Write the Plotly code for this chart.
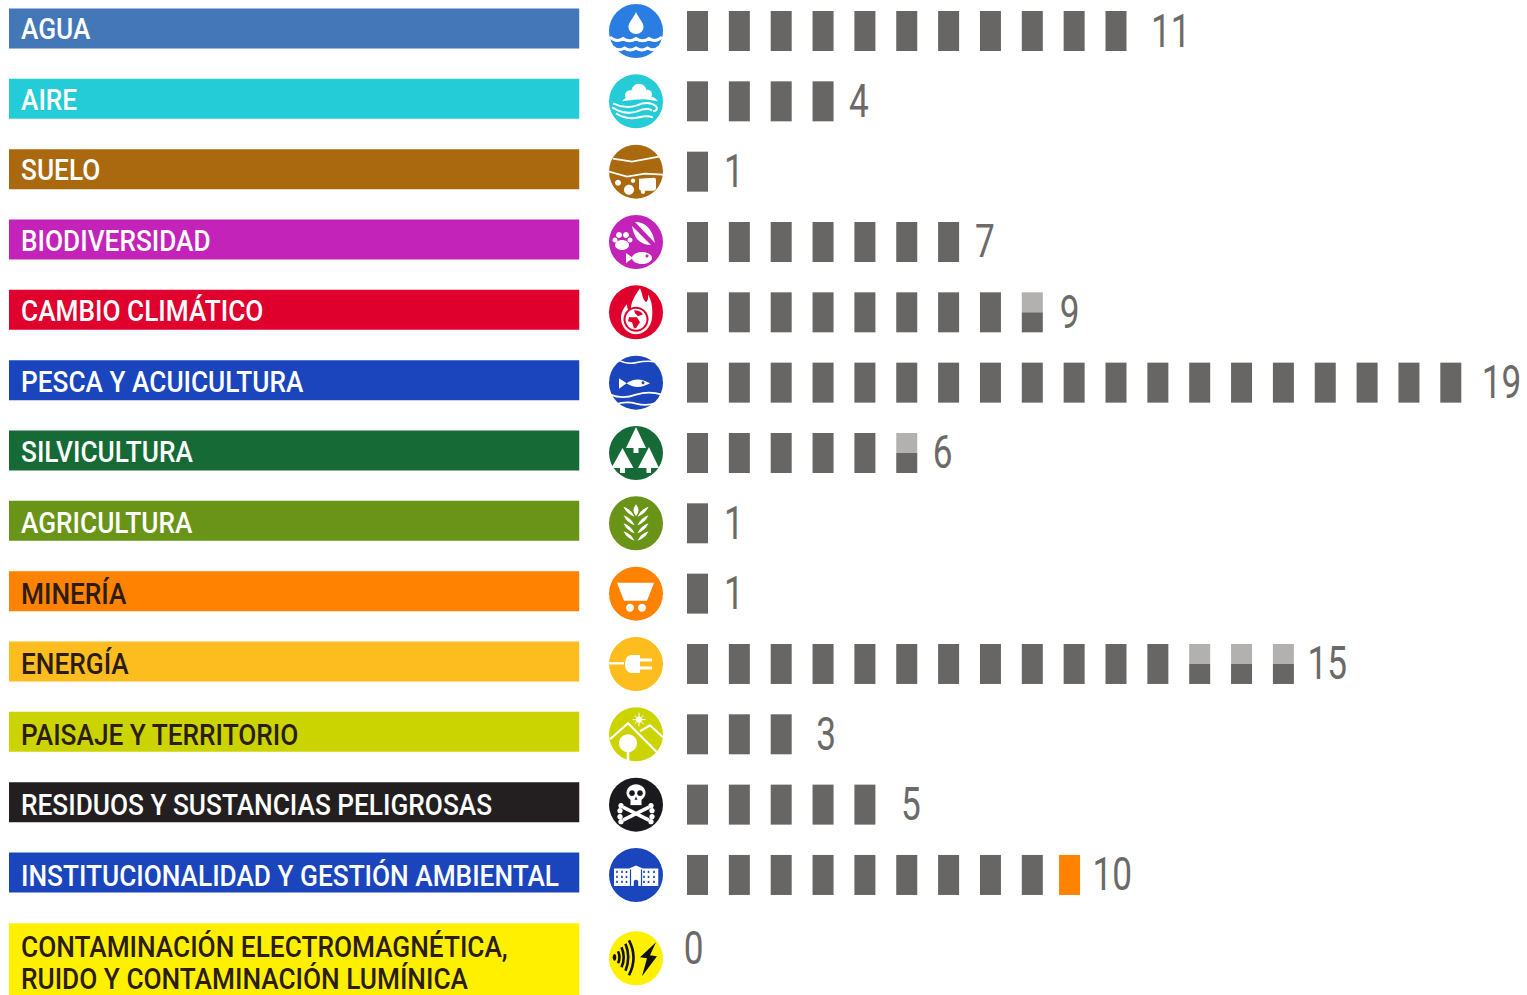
import re
import plotly.graph_objects as go

# ---------- data ----------
categories = ["AGUA", "AIRE", "SUELO", "BIODIVERSIDAD", "CAMBIO CLIMÁTICO", "PESCA Y ACUICULTURA",
              "SILVICULTURA", "AGRICULTURA", "MINERÍA", "ENERGÍA", "PAISAJE Y TERRITORIO",
              "RESIDUOS Y SUSTANCIAS PELIGROSAS", "INSTITUCIONALIDAD Y GESTIÓN AMBIENTAL",
              "CONTAMINACIÓN ELECTROMAGNÉTICA,<br>RUIDO Y CONTAMINACIÓN LUMÍNICA"]
totals = [11, 4, 1, 7, 9, 19, 6, 1, 1, 15, 3, 5, 10, 0]
full_units = [11, 4, 1, 7, 8, 19, 5, 1, 1, 12, 3, 5, 9, 0]
half_units = [0, 0, 0, 0, 1, 0, 1, 0, 0, 3, 0, 0, 0, 0]
orange_units = [0, 0, 0, 0, 0, 0, 0, 0, 0, 0, 0, 0, 1, 0]

# ---------- styles ----------
band_colors = ["#4477b8", "#23ccd6", "#ab690f", "#c323b8", "#e0002d", "#1a45bc", "#166a36",
               "#6a9418", "#ff8200", "#fdbd1f", "#ccd400", "#231f20", "#1a45bc", "#fff000"]
icon_colors = ["#2a7de1", "#23ccd6", "#ab690f", "#c323b8", "#e0002d", "#1a45bc", "#166a36",
               "#6a9418", "#ff8200", "#fdbd1f", "#ccd400", "#1a1a1e", "#1a45bc", "#fff000"]
label_colors = ["#ffffff"] * 8 + ["#2b1d14", "#2b1d14", "#2b1d14", "#ffffff", "#ffffff", "#2b1d14"]
number_gaps = [24.5, 15.5, 16, 16, 17, 20.5, 15.5, 16, 16, 13.5, 24.5, 25.5, 12.5, 0]
DARK, LIGHT, ORANGE, NUM = "#676664", "#b2b1af", "#ff8200", "#6b6a68"
W, H = 1527, 995
PITCH_X, X0 = 41.85, 697.5       # unit pitch and first-unit centre, px
PITCH_Y, Y0 = 70.33, 31.0        # row pitch and first-row centre, px
UW, UH = 21 / PITCH_X, 40 / PITCH_Y
TXT = "Roboto, sans-serif"

n = len(categories)
rows = list(range(n))
band_c = [r - 2.5 / PITCH_Y for r in rows]
band_c[-1] = n - 1 + 14 / PITCH_Y
band_h = [40 / PITCH_Y] * (n - 1) + [72 / PITCH_Y]
icon_y = list(rows)
icon_y[-1] = n - 1 + 13 / PITCH_Y
num_y = [r + 4 / PITCH_Y for r in rows]
num_y[-1] = n - 1 + 7 / PITCH_Y

# label lines: the last category takes two lines, each its own text point
label_text, label_y, label_col = [], [], []
for r in rows:
    lines = categories[r].split("<br>")
    if len(lines) == 1:
        label_text.append(lines[0]); label_y.append(r + (0.5 + 0.25 * r) / PITCH_Y); label_col.append(label_colors[r])
    else:
        for ln, off in zip(lines, (4, 36)):
            label_text.append(ln); label_y.append(r + off / PITCH_Y); label_col.append(label_colors[r])

# ---------- traces ----------
fig = go.Figure()
fig.add_bar(x=[1] * n, y=band_c, width=band_h, orientation="h", xaxis="x2", yaxis="y",
            marker=dict(color=band_colors, line_width=0))
fig.add_scatter(x=[12 / 570] * len(label_text), y=label_y, mode="text", text=label_text, xaxis="x2", yaxis="y",
                textposition="middle right",
                textfont=dict(family=TXT, size=30, weight=500, color=label_col))

dx, dy = [], []
lx, ly, ldx, ldy = [], [], [], []
ox, oy = [], []
for r in rows:
    for k in range(full_units[r]):
        dx.append(k); dy.append(r - UH / 2)
    for k in range(half_units[r]):
        j = full_units[r] + k
        lx.append(j); ly.append(r - UH / 2)
        ldx.append(j); ldy.append(r)
    for k in range(orange_units[r]):
        ox.append(full_units[r] + k - 0.11); oy.append(r - UH / 2)

fig.add_bar(x=dx, y=[UH] * len(dx), base=dy, width=UW, marker=dict(color=DARK, line_width=0))
fig.add_bar(x=lx, y=[UH / 2] * len(lx), base=ly, width=UW, marker=dict(color=LIGHT, line_width=0))
fig.add_bar(x=ldx, y=[UH / 2] * len(ldx), base=ldy, width=UW, marker=dict(color=DARK, line_width=0))
fig.add_bar(x=ox, y=[UH] * len(ox), base=oy, width=UW, marker=dict(color=ORANGE, line_width=0))

right_edge = [t - 1 + UW / 2 for t in totals]
right_edge[12] -= 0.11
num_x = [right_edge[i] + number_gaps[i] / PITCH_X for i in rows]
num_x[-1] = -0.33
fig.add_scatter(x=num_x, y=num_y, mode="text", text=[str(t) for t in totals],
                textposition="middle right", textfont=dict(family=TXT, size=46, weight=400, color=NUM))

icon_x = (636 - X0) / PITCH_X
fig.add_scatter(x=[icon_x] * n, y=icon_y, mode="markers",
                marker=dict(size=54, color=icon_colors, line_width=0))


# ---------- icons: paths written in a 54x54 box, y downwards ----------
def to_px(path):
    out, isx = [], True
    for tok in re.findall(r"[MLQCZ]|-?\d+\.?\d*", path):
        if tok in "MLQCZ":
            out.append(tok); isx = True
        else:
            v = float(tok)
            out.append(f"{v - 27:.2f}" if isx else f"{27 - v:.2f}")
            isx = not isx
    return " ".join(out)


def circ(cx, cy, r, ry=None):
    ry = r if ry is None else ry
    a, b = 0.552 * r, 0.552 * ry
    return (f"M{cx - r} {cy} C{cx - r} {cy - b} {cx - a} {cy - ry} {cx} {cy - ry} "
            f"C{cx + a} {cy - ry} {cx + r} {cy - b} {cx + r} {cy} "
            f"C{cx + r} {cy + b} {cx + a} {cy + ry} {cx} {cy + ry} "
            f"C{cx - a} {cy + ry} {cx - r} {cy + b} {cx - r} {cy} Z")


def rect(x0, y0, x1, y1):
    return f"M{x0} {y0} L{x1} {y0} L{x1} {y1} L{x0} {y1} Z"


def lens(x0, y0, x1, y1, w):
    mx, my = (x0 + x1) / 2, (y0 + y1) / 2
    px, py = -(y1 - y0), (x1 - x0)
    s = w / max((px ** 2 + py ** 2) ** 0.5, 1e-6)
    return (f"M{x0} {y0} Q{mx + px * s:.2f} {my + py * s:.2f} {x1} {y1} "
            f"Q{mx - px * s:.2f} {my - py * s:.2f} {x0} {y0} Z")


def F(p, c="#ffffff"):
    return ("f", p, c, 0)


def S(p, w=2.5, c="#ffffff"):
    return ("s", p, c, w)


B = None  # background colour placeholder
icons = {}
icons[0] = [F("M27 8 C24 15 19.5 18 19.5 23 C19.5 27 23 30 27 30 C31 30 34.5 27 34.5 23 C34.5 18 30 15 27 8 Z"),
            S("M1 33 Q7.5 39 14 34.5 Q20.5 39 27 34.5 Q33.5 39 40 34.5 Q46.5 39 53 33", 3),
            S("M4 43 Q9 48 15.5 44 Q21 48 27 44 Q33 48 38.5 44 Q45 48 50 43", 3)]
icons[1] = [F(circ(30, 17, 7.5)), F(circ(21, 21, 5)), F(circ(38.5, 20, 4.5)),
            F("M13 27 Q17 22 24 22 L42 22 Q46 23 49 27 L36 25 Q24 25 13 27 Z"),
            S("M4 29 Q16 35 28 31 Q40 26 47 32 Q50 36 44 37", 2),
            S("M3 33 Q16 41 28 37 Q38 33 43 36", 2),
            S("M7 39 Q18 46 30 43 Q38 41 44 43", 2)]
icons[2] = [S("M4 14 L23 17 L50 12", 1.8), S("M0 27 L18 32 L36 29 L54 30", 1.8),
            F(circ(20, 45, 5)), F(circ(9, 38, 3)), F(circ(24, 36, 2.2)), F(circ(34, 47, 2.2)),
            F("M30 34 L45 33 Q47 33 47 35 L47 43 Q47 46 44 46 L33 46 Q30 46 30 43 Z")]
icons[3] = [F(circ(10, 20, 3)), F(circ(17, 20, 3)), F(circ(6, 25, 2.5)), F(circ(21, 25, 2.5)),
            F(circ(13, 30, 7, 5)),
            F("M26 7 Q42 7 46 28 L26 7 Z"), F("M23 11 L42 30 Q26 30 23 11 Z"),
            F(circ(33, 43, 10, 6)), F("M24 43 L17 38 L17 48 Z"), F(circ(38, 41, 1.5), B)]
icons[4] = [F("M31 3 C34 10 33 13 37 17 C40 14 39 11 39 9 C43 16 44 24 43 33 C42 42 35 49 27 49 "
              "C19 49 12 42 12 33 C12 27 15 22 18 19 C18 24 20 26 22 26 C21 18 26 10 31 3 Z"),
            F(circ(27, 34, 12.5), B), F(circ(27, 34, 10.5)),
            F("M25 25 Q31 25 34 29 L29 31 L26 28 Z", B),
            F("M20 32 L28 32 L31 37 L27 43 L25 43 L23 37 L19 36 Z", B)]
icons[5] = [F("M17.5 27.7 Q28 20 41 27.7 Q28 35 17.5 27.7 Z"), F("M17.7 27.7 L10 22.5 L10 33 Z"),
            F(circ(34, 27, 1.5), B),
            S("M8 4 Q18 9 27 7 Q36 5 46 6", 1.6), S("M1 39 Q14 44 27 39 Q40 35 53 39", 1.8),
            S("M6 49 Q17 45 27 48 Q38 51 48 47", 1.8)]
icons[6] = [F("M27 1 L37 22 L29.5 22 L29.5 27 L24.5 27 L24.5 22 L17 22 Z"),
            F("M13.5 22 L24.5 42 L16 42 L16 47 L11 47 L11 42 L2.5 42 Z"),
            F("M40 21 L50 42 L42 42 L42 47 L37.5 47 L37.5 42 L29 42 Z")]
icons[7] = [F(lens(27, 8, 27, 20, 5))]
for oy_, iy in [(10.5, 20.5), (19, 29), (27, 37), (35, 44.5)]:
    icons[7] += [F(lens(14.5, oy_, 25.5, iy, 3.2)), F(lens(39.5, oy_, 28.5, iy, 3.2))]
icons[8] = [F("M8 16 L45 16 L38 34 L15 34 Z"), F(circ(21, 41, 4)), F(circ(33, 41, 4))]
icons[9] = [F(rect(0, 25.2, 15, 27.5)),
            F("M22 18 L31 18 L31 36 L22 36 Q16 35 16 27 Q16 19 22 18 Z"),
            F(rect(31, 21.5, 43, 24.5)), F(rect(31, 29.5, 43, 32.5))]
icons[10] = [F(circ(30, 12.3, 3.2)), S("M30 5.5 L30 19 M23.5 12.3 L36.5 12.3 M25.5 8 L34.5 16.7 M25.5 16.7 L34.5 8", 1),
             S("M1 32 L19 16 L49 46", 2.2), S("M31 24 L41 18 L54 30", 2.2),
             F(circ(19, 36, 9)), F(rect(17.7, 42, 20.3, 53.5))]
icons[11] = [F(circ(27, 15, 9.5, 8.5)), F(rect(21.5, 20, 32.5, 27.5)),
             F(circ(23, 15.5, 2.8), B), F(circ(31, 15.5, 2.8), B), F("M27 19 L25.5 22 L28.5 22 Z", B),
             S("M14 29.5 L40 42.5", 3.5), S("M14 42.5 L40 29.5", 3.5)]
for bx, by in [(12, 28), (11, 33), (42, 28), (43, 33), (12, 44), (11, 39), (42, 44), (43, 39)]:
    icons[11].append(F(circ(bx, by, 2.7)))
icons[12] = [F("M5 20.5 L20 20.5 L27 17.5 L34 20.5 L49.3 20.5 L49.3 38 L5 38 Z")]
for wx in (8, 13, 17.5, 35, 39.5, 45):
    for wy in (24, 29, 34):
        icons[12].append(F(rect(wx - 0.8, wy - 1.1, wx + 0.8, wy + 1.1), B))
for wx in (21.5, 32.5):
    icons[12].append(F(rect(wx - 0.6, 21.5, wx + 0.6, 38), B))
icons[12].append(F("M24.8 38 L24.8 33 Q27 30.5 29.2 33 L29.2 38 Z", B))
K = "#111111"
icons[13] = [F(circ(5.5, 26, 1.8, 3.4), K), S("M9 20 Q12 26 9 32", 2.6, K), S("M12.5 16 Q17 26 12.5 36", 2.6, K),
             S("M16.5 12.5 Q22 26 16.5 39.5", 2.6, K), S("M20 9 Q29 26 20 44", 2.6, K),
             F("M47 11 L31 26 L38 27 L33 45 L48 25 L41 24 Z", K)]

shapes = []
for i, parts in icons.items():
    for kind, p, c, w in parts:
        col = icon_colors[i] if c is None else c
        s = dict(type="path", path=to_px(p), xref="paper", yref="y", xsizemode="pixel", ysizemode="pixel",
                 xanchor=636 / W, yanchor=icon_y[i], layer="above")
        if kind == "f":
            s.update(fillcolor=col, line=dict(width=0))
        else:
            s.update(fillcolor="rgba(0,0,0,0)", line=dict(color=col, width=w))
        shapes.append(s)

fig.update_layout(
    width=W, height=H, margin=dict(l=0, r=0, t=0, b=0), autosize=False, showlegend=False,
    paper_bgcolor="#ffffff", plot_bgcolor="#ffffff", barmode="overlay", shapes=shapes,
    xaxis=dict(domain=[0, 1], range=[-X0 / PITCH_X, (W - X0) / PITCH_X], visible=False, fixedrange=True),
    xaxis2=dict(domain=[9 / W, 579.5 / W], range=[0, 1], visible=False, anchor="y", fixedrange=True),
    yaxis=dict(domain=[0, 1], range=[(H - Y0) / PITCH_Y, -Y0 / PITCH_Y], visible=False, fixedrange=True),
    hovermode=False,
)

# no condensed font is installed: narrow the real text in place, and drop the page margin.
# Squeeze is chosen per text group: numbers (digits only) and category labels.
POST = """
document.body.style.margin = '0';
document.documentElement.style.overflow = 'hidden';
document.querySelectorAll('.scatterlayer .textpoint text').forEach(function (t) {
  var sx = /^[0-9]+$/.test(t.textContent.trim()) ? 0.765 : 0.875;
  t.style.transformBox = 'fill-box';
  t.style.transformOrigin = 'left center';
  t.style.transform = 'scaleX(' + sx + ')';
});
"""
fig.write_html("out.html", config=dict(displayModeBar=False), post_script=POST)
